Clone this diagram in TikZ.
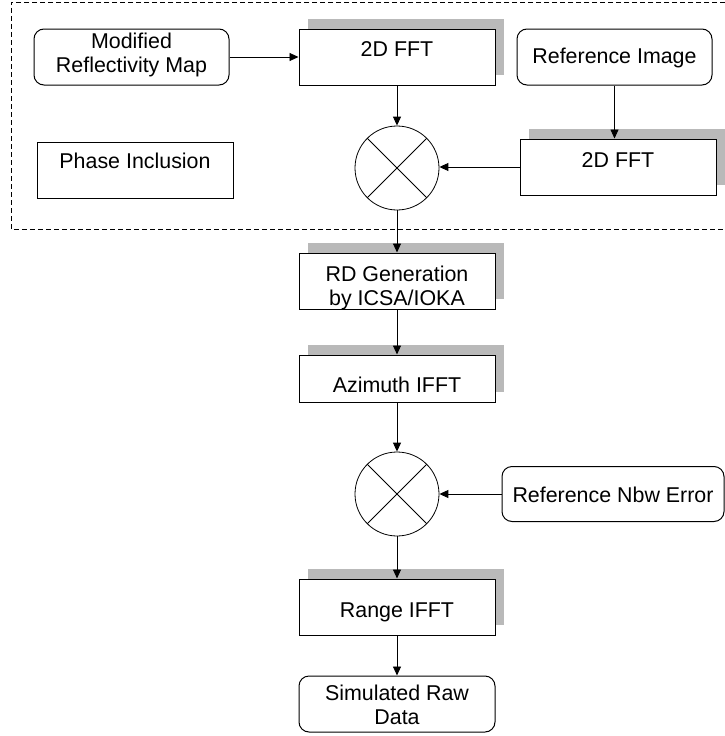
\documentclass[tikz,border=0pt]{standalone}
\usepackage{fontspec}
\setmainfont{Liberation Sans}
\usetikzlibrary{arrows.meta,shadows}
\begin{document}
\begin{tikzpicture}[x=1pt,y=-1pt,
  box/.style={draw, line width=1pt, minimum width=196pt, minimum height=56pt, inner sep=0pt},
  rbox/.style={box, rounded corners=10pt},
  sbox/.style={box, fill=white, drop shadow={shadow xshift=9pt, shadow yshift=10pt, fill=gray!55, opacity=1}},
  mult/.style={draw, circle, line width=0.8pt, minimum size=84pt, inner sep=0pt},
  txt/.style={inner sep=0pt, font=\fontsize{21.4}{24.5}\selectfont, align=center},
  flow/.style={draw, line width=0.9pt, -{Triangle[length=9pt,width=8pt]}},
  frame/.style={line width=0.8pt, dash pattern=on 5pt off 3pt},
]
\useasboundingbox (0,0) rectangle (725,736);
\draw[frame] (725,2) -- (11,2) -- (11,229) -- (725,229);

\node[rbox, minimum width=195pt] (mrm) at (131.5,57) {};
\node[sbox] (fftA) at (397,57) {};
\node[rbox, minimum width=195pt] (refimg) at (614.5,57) {};
\node[sbox] (fftB) at (618,167) {};
\node[mult] (mulA) at (397,168) {};
\node[box] (phase) at (135,170) {};
\node[sbox] (rd) at (397,281) {};
\node[sbox, minimum height=47pt] (az) at (397,378.5) {};
\node[mult] (mulB) at (397,494) {};
\node[rbox, minimum width=222pt, minimum height=55pt] (nbw) at (613,494) {};
\node[sbox] (range) at (397,607) {};
\node[rbox] (sim) at (397,704) {};

\node[txt] (mrmT) at (131.5,55) {Modified\\Reflectivity Map};
\node[txt, anchor=base] (fftAT) at (397,56) {2D FFT};
\node[txt, anchor=base] (refimgT) at (614.5,63) {Reference Image};
\node[txt, anchor=base] (fftBT) at (618,167) {2D FFT};
\node[txt, anchor=base] (phaseT) at (135,168) {Phase Inclusion};
\node[txt] (rdT) at (397,288) {RD Generation\\by ICSA/IOKA};
\node[txt, anchor=base] (azT) at (397,392) {Azimuth IFFT};
\node[txt, anchor=base] (nbwT) at (613,502) {Reference Nbw Error};
\node[txt, anchor=base] (rangeT) at (397,617) {Range IFFT};
\node[txt] (simT) at (397,704.7) {Simulated Raw\\Data};

\foreach \m in {mulA,mulB}{
  \draw[line width=0.8pt] (\m.north west) -- (\m.south east) (\m.north east) -- (\m.south west);
}

\draw[flow] (mrm) -- (fftA);
\draw[flow] (fftA) -- (mulA);
\draw[flow] (refimg.south) -- (refimg.south |- fftB.north);
\draw[flow] (fftB.west) -- (fftB.west -| mulA.east);
\draw[flow] (mulA) -- (rd);
\draw[flow] (rd) -- (az);
\draw[flow] (az) -- (mulB);
\draw[flow] (nbw) -- (mulB);
\draw[flow] (mulB) -- (range);
\draw[flow] (range) -- (sim);
\end{tikzpicture}
\end{document}
